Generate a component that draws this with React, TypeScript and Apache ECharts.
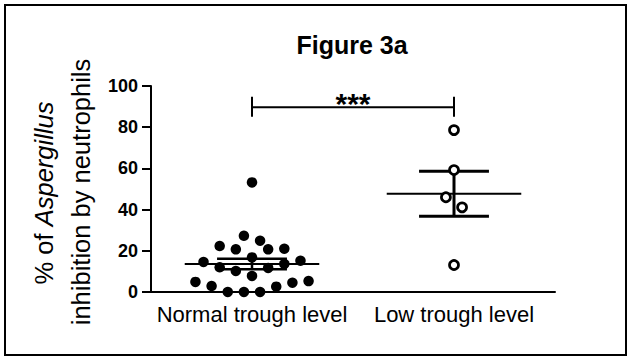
import React, { useEffect, useRef } from "react";
import * as echarts from "echarts";

const categories = ["Normal trough level", "Low trough level"];
const yTicks = [0, 20, 40, 60, 80, 100];

// Normal trough level: values and horizontal jitter (in category units)
const normalValues = [53.2, 27.3, 24.9, 22.3, 20.7, 20.7, 21.0, 16.8, 14.6, 15.2, 13.6, 12.0, 11.7, 10.2, 7.8, 4.9, 2.9, 4.5, 5.3, 2.6, 0, 0, 0];
const normalJitter = [0, -0.04, 0.04, -0.16, -0.08, 0.08, 0.16, 0, -0.24, 0.24, 0.16, -0.16, 0.08, -0.08, 0, -0.28, -0.2, 0.2, 0.28, 0.12, -0.12, -0.04, 0.04];

// Low trough level
const lowValues = [78.6, 59.2, 46.0, 41.1, 13.1];
const lowJitter = [0, 0, -0.04, 0.04, 0];

// Mean ± SEM per group
const groupMeans = [13.6, 47.7];
const groupSems = [2.6, 10.9];

// significance bracket
const bracketLevel = 89.7;
const bracketLabel = "***";

const FONT = "'Liberation Sans', Arial, Helvetica, sans-serif";

export default function App() {
  const ref = useRef<HTMLDivElement>(null);

  useEffect(() => {
    if (!ref.current) return;
    const chart = echarts.init(ref.current, null, { renderer: "svg" });

    const normalData = normalValues.map((v, i) => [0.5 + normalJitter[i], v]);
    const lowData = lowValues.map((v, i) => [1.5 + lowJitter[i], v]);
    const statData = groupMeans.map((m, i) => [i + 0.5, m, groupSems[i], i]);

    const option: any = {
      animation: false,
      backgroundColor: "#fff",
      grid: { left: 151, right: 73, top: 86, bottom: 66, containLabel: false },
      xAxis: [
        {
          type: "category",
          data: categories,
          boundaryGap: true,
          axisLine: { lineStyle: { color: "#000", width: 2 } },
          axisTick: { alignWithLabel: true, length: 8, lineStyle: { color: "#000", width: 2 } },
          axisLabel: { color: "#000", fontSize: 22, fontFamily: FONT, margin: 11, interval: 0 },
          splitLine: { show: false },
        },
        { type: "value", min: 0, max: 2, show: false },
      ],
      yAxis: {
        type: "value",
        min: yTicks[0],
        max: yTicks[yTicks.length - 1],
        interval: 20,
        axisLine: { show: true, lineStyle: { color: "#000", width: 2 } },
        axisTick: { show: true, length: 9, lineStyle: { color: "#000", width: 2 } },
        axisLabel: { color: "#000", fontSize: 18, fontWeight: "bold", fontFamily: FONT, margin: 13 },
        splitLine: { show: false },
      },
      graphic: [
        {
          type: "rect",
          shape: { x: 5, y: 5, width: 621, height: 350 },
          style: { fill: "none", stroke: "#000", lineWidth: 2 },
        },
        {
          type: "text",
          x: 352,
          y: 45,
          style: {
            text: "Figure 3a",
            fontSize: 25,
            fontWeight: "bold",
            fontFamily: FONT,
            fill: "#000",
            align: "center",
            verticalAlign: "middle",
          },
        },
        {
          type: "text",
          x: 44,
          y: 193,
          rotation: Math.PI / 2,
          style: {
            text: "{n|% of }{i|Aspergillus}",
            rich: {
              n: { fontSize: 25.5, fontFamily: FONT, fill: "#000" },
              i: { fontSize: 25.5, fontFamily: FONT, fontStyle: "italic", fill: "#000" },
            },
            align: "center",
            verticalAlign: "middle",
          },
        },
        {
          type: "text",
          x: 81,
          y: 192,
          rotation: Math.PI / 2,
          style: {
            text: "inhibition by neutrophils",
            fontSize: 25.5,
            fontFamily: FONT,
            fill: "#000",
            align: "center",
            verticalAlign: "middle",
          },
        },
      ],
      series: [
        {
          type: "scatter",
          xAxisIndex: 1,
          data: normalData,
          symbol: "circle",
          symbolSize: 10.5,
          itemStyle: { color: "#000", opacity: 1 },
          z: 2,
        },
        {
          type: "custom",
          xAxisIndex: 1,
          data: statData,
          z: 3,
          renderItem: (params: any, api: any) => {
            const cx = api.value(0);
            const m = api.value(1);
            const s = api.value(2);
            const isLow = api.value(3) === 1;
            const l = api.coord([cx - 0.333, m]);
            const r = api.coord([cx + 0.333, m]);
            const top = api.coord([cx, m + s]);
            const bot = api.coord([cx, m - s]);
            const capHalf = api.size([0.173, 0])[0];
            const capW = isLow ? 3 : 2.5;
            return {
              type: "group",
              children: [
                { type: "line", shape: { x1: top[0], y1: top[1], x2: bot[0], y2: bot[1] }, style: { stroke: "#000", lineWidth: capW } },
                { type: "line", shape: { x1: top[0] - capHalf, y1: top[1], x2: top[0] + capHalf, y2: top[1] }, style: { stroke: "#000", lineWidth: capW } },
                { type: "line", shape: { x1: bot[0] - capHalf, y1: bot[1], x2: bot[0] + capHalf, y2: bot[1] }, style: { stroke: "#000", lineWidth: capW } },
                { type: "line", shape: { x1: l[0], y1: l[1], x2: r[0], y2: r[1] }, style: { stroke: "#000", lineWidth: 2 } },
              ],
            };
          },
        },
        {
          type: "scatter",
          xAxisIndex: 1,
          data: lowData,
          symbol: "circle",
          symbolSize: 9,
          itemStyle: { color: "#fff", borderColor: "#000", borderWidth: 2.7, opacity: 1 },
          z: 4,
        },
        {
          type: "custom",
          xAxisIndex: 1,
          data: [[0.5, 1.5, bracketLevel]],
          z: 5,
          renderItem: (params: any, api: any) => {
            const a = api.coord([api.value(0), api.value(2)]);
            const b = api.coord([api.value(1), api.value(2)]);
            return {
              type: "group",
              children: [
                { type: "line", shape: { x1: a[0], y1: a[1], x2: b[0], y2: b[1] }, style: { stroke: "#000", lineWidth: 2 } },
                { type: "line", shape: { x1: a[0], y1: a[1] - 10.5, x2: a[0], y2: a[1] + 9.5 }, style: { stroke: "#000", lineWidth: 2 } },
                { type: "line", shape: { x1: b[0], y1: b[1] - 10.5, x2: b[0], y2: b[1] + 9.5 }, style: { stroke: "#000", lineWidth: 2 } },
                {
                  type: "text",
                  x: (a[0] + b[0]) / 2,
                  y: a[1] - 4,
                  style: {
                    text: bracketLabel,
                    fontSize: 30,
                    fontWeight: "bold",
                    fontFamily: FONT,
                    fill: "#000",
                    align: "center",
                    verticalAlign: "middle",
                  },
                },
              ],
            };
          },
        },
      ],
    };

    chart.setOption(option);
    return () => chart.dispose();
  }, []);

  return (
    <div
      ref={ref}
      style={{ position: "absolute", left: 0, top: 0, width: 628, height: 358 }}
    />
  );
}
